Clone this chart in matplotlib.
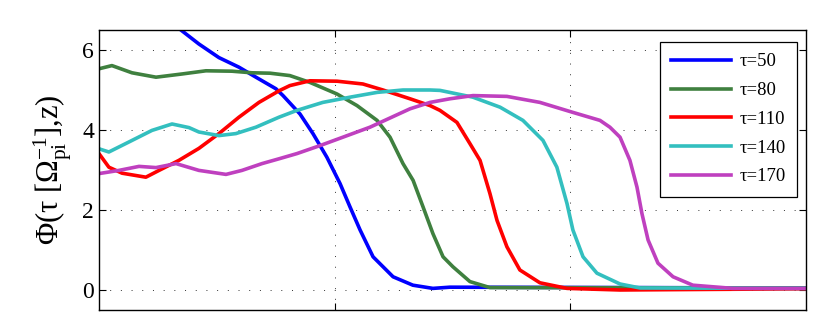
import numpy as np
import matplotlib
matplotlib.use('Agg')
import matplotlib.pyplot as plt

plt.rcParams['font.family'] = ['Liberation Serif', 'DejaVu Serif']
plt.rcParams['mathtext.fontset'] = 'custom'
plt.rcParams['mathtext.rm'] = 'Liberation Serif'
plt.rcParams['mathtext.it'] = 'Liberation Serif:italic'

# values (z from 0 to 300)
z50 = [0, 20, 35.2, 42.4, 50.9, 59.4, 66.6, 75.1, 78.1, 85.3, 90.8, 96.7, 102.3, 106.5,
       110.8, 116.3, 124.8, 133.2, 141.7, 148.9, 300]
phi50 = [8.0, 7.2, 6.48, 6.15, 5.81, 5.57, 5.32, 5.03, 4.86, 4.40, 3.91, 3.32, 2.66, 2.08,
         1.50, 0.83, 0.33, 0.12, 0.04, 0.07, 0.05]

z80 = [0, 5.5, 14.0, 24.2, 35.2, 45.4, 56.4, 64.9, 72.6, 81.0, 89.5, 101.0, 109.5, 118.0,
       123.5, 129.0, 133.3, 137.5, 141.7, 146.0, 150.2, 157.4, 165.9, 300]
phi80 = [5.53, 5.61, 5.43, 5.32, 5.40, 5.48, 5.47, 5.43, 5.42, 5.36, 5.19, 4.90, 4.61, 4.24,
         3.82, 3.16, 2.74, 2.08, 1.41, 0.83, 0.58, 0.21, 0.06, 0.05]

z110 = [0, 4.2, 9.8, 19.9, 25.5, 33.9, 42.4, 50.9, 59.4, 67.9, 76.4, 81.0, 89.5, 101.0,
        112.0, 120.5, 132.0, 140.5, 144.7, 151.9, 157.4, 161.7, 165.9, 168.9, 173.1,
        178.6, 187.1, 198.6, 221.1, 300]
phi110 = [3.41, 3.07, 2.92, 2.82, 2.99, 3.24, 3.54, 3.91, 4.32, 4.69, 4.98, 5.11, 5.23, 5.22,
          5.15, 5.00, 4.78, 4.61, 4.49, 4.19, 3.66, 3.24, 2.41, 1.74, 1.08,
          0.50, 0.18, 0.04, 0.0, 0.03]

z140 = [0, 4.2, 12.7, 22.5, 31.0, 38.2, 42.4, 50.9, 58.1, 66.6, 76.4, 84.0, 95.0, 106.5,
        118.0, 129.0, 140.5, 144.7, 158.7, 170.2, 179.9, 188.4, 194.3, 198.6, 201.1,
        205.4, 211.3, 221.1, 229.6, 300]
phi140 = [3.53, 3.45, 3.70, 3.99, 4.15, 4.06, 3.95, 3.86, 3.91, 4.07, 4.32, 4.49, 4.69, 4.82,
          4.94, 5.00, 5.00, 4.99, 4.82, 4.57, 4.24, 3.74, 3.07, 2.16, 1.50,
          0.83, 0.42, 0.15, 0.05, 0.04]

z170 = [0, 8.5, 17.0, 24.2, 32.7, 42.4, 53.9, 60.7, 69.2, 76.4, 84.0, 93.8, 103.5, 115.0,
        123.5, 132.0, 140.5, 148.9, 158.7, 173.1, 187.1, 201.1, 212.6, 216.8, 221.1,
        225.3, 228.3, 230.4, 233.0, 237.2, 243.6, 252.0, 269.0, 300]
phi170 = [2.91, 2.99, 3.09, 3.06, 3.16, 2.99, 2.89, 2.99, 3.16, 3.28, 3.41, 3.61, 3.82, 4.07,
          4.30, 4.53, 4.69, 4.78, 4.86, 4.84, 4.69, 4.44, 4.24, 4.07, 3.82,
          3.24, 2.57, 1.91, 1.25, 0.67, 0.33, 0.12, 0.04, 0.04]

labels = ['τ=50', 'τ=80', 'τ=110', 'τ=140', 'τ=170']
colors = ['#0000ff', '#3f803f', '#ff0000', '#33bfbf', '#bf40bf']

fig = plt.figure(figsize=(8.22, 3.34), dpi=100)
ax = fig.add_axes([0.1204, 0.0719, 0.8601, 0.8383])

series = [(z50, phi50), (z80, phi80), (z110, phi110), (z140, phi140), (z170, phi170)]
for (z, phi), c, lab in zip(series, colors, labels):
    ax.plot(z, phi, color=c, lw=2.6, label=lab)

ax.set_xlim(0, 300)
ax.set_ylim(-0.5, 6.5)
ax.set_xticks([100, 200])
ax.set_xticklabels([])
ax.set_yticks([0, 2, 4, 6])
ax.tick_params(direction='in', top=True, right=True, labelsize=17, length=5, width=0.8)
ax.grid(True, color='#333333', linestyle=(0, (1, 10)), linewidth=0.7)
for s in ax.spines.values():
    s.set_linewidth(1.0)

ax.set_ylabel(r'$\mathrm{Φ(τ\ [Ω^{-1}_{pi}]{,}z)}$', fontsize=22, labelpad=6)

leg = ax.legend(loc='upper right', bbox_to_anchor=(0.987, 0.957), borderaxespad=0,
                fontsize=13.5, handlelength=3.2, labelspacing=0.62, fancybox=False,
                edgecolor='black', framealpha=1, handletextpad=0.45, borderpad=0.6)
leg.get_frame().set_linewidth(0.9)

fig.savefig('out.png', dpi=100)
